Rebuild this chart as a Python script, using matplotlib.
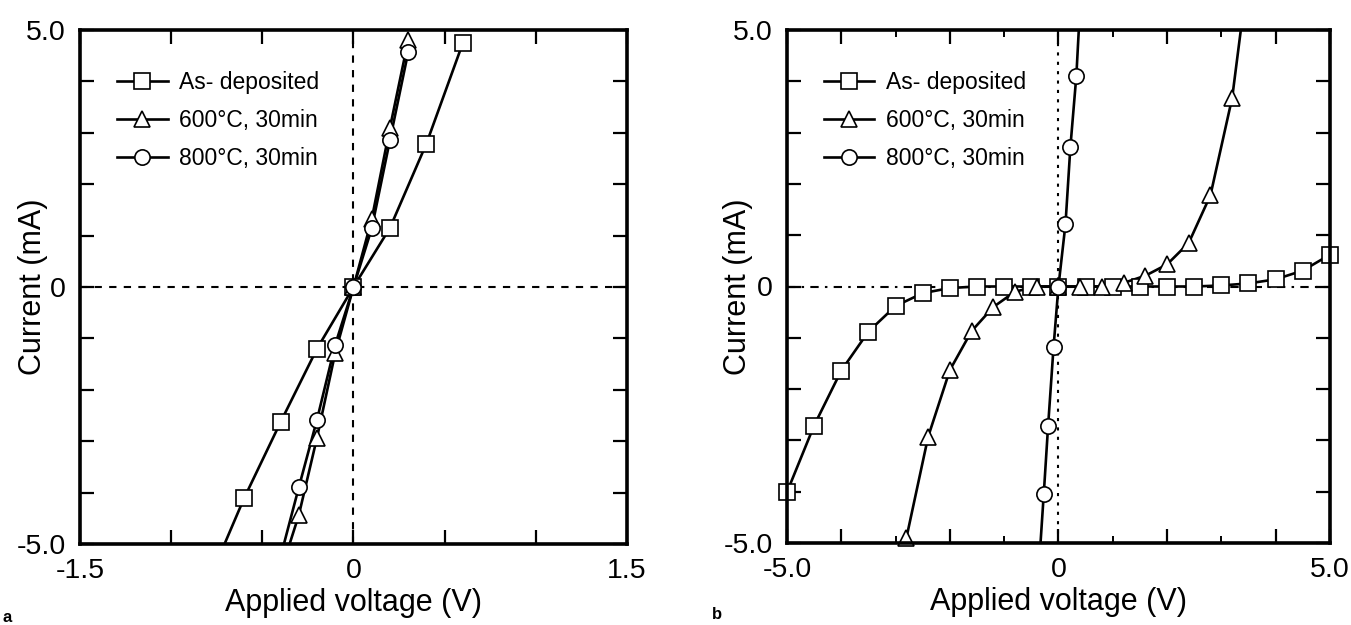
import matplotlib
matplotlib.use("Agg")
import matplotlib.pyplot as plt
from matplotlib.ticker import MultipleLocator

plt.rcParams["font.family"] = ["Liberation Sans", "DejaVu Sans"]

# ---- panel a : I-V, small range ----
a_dep_v = [0.6, 0.4, 0.2, 0.0, -0.2, -0.4, -0.6, -0.8]
a_dep_i = [4.75, 2.79, 1.15, 0.0, -1.20, -2.63, -4.11, -5.77]
a_600_v = [0.3, 0.2, 0.1, 0.0, -0.1, -0.2, -0.3, -0.4]
a_600_i = [4.80, 3.10, 1.32, 0.0, -1.28, -2.93, -4.44, -5.55]
a_800_v = [0.3, 0.2, 0.1, 0.0, -0.1, -0.2, -0.3, -0.4]
a_800_i = [4.57, 2.86, 1.14, 0.0, -1.12, -2.58, -3.90, -5.25]

# ---- panel b : I-V, wide range ----
b_dep_v = [-5.0, -4.5, -4.0, -3.5, -3.0, -2.5, -2.0, -1.5, -1.0, -0.5, 0.0,
           0.5, 1.0, 1.5, 2.0, 2.5, 3.0, 3.5, 4.0, 4.5, 5.0]
b_dep_i = [-4.01, -2.71, -1.64, -0.88, -0.38, -0.13, -0.03, 0.0, 0.0, 0.0, 0.0,
           0.0, 0.0, 0.0, 0.0, 0.0, 0.02, 0.06, 0.14, 0.31, 0.62]
b_600_v = [-3.0, -2.8, -2.4, -2.0, -1.6, -1.2, -0.8, -0.4, 0.0, 0.4, 0.8,
           1.2, 1.6, 2.0, 2.4, 2.8, 3.2, 3.6]
b_600_i = [-6.3, -4.9, -2.93, -1.63, -0.87, -0.40, -0.10, 0.0, 0.0, 0.0, 0.0,
           0.07, 0.21, 0.43, 0.85, 1.78, 3.68, 7.0]
b_800_v = [-0.38, -0.27, -0.19, -0.09, 0.0, 0.13, 0.22, 0.33, 0.45]
b_800_i = [-5.8, -4.04, -2.71, -1.18, 0.0, 1.22, 2.72, 4.11, 6.5]

labels = ["As- deposited", "600°C, 30min", "800°C, 30min"]
markers = ["s", "^", "o"]

fig = plt.figure(figsize=(13.51, 6.25), dpi=100)
ax_a = fig.add_axes([0.0592, 0.1296, 0.4049, 0.8224])
ax_b = fig.add_axes([0.5825, 0.1312, 0.4019, 0.8208])


def draw_panel(ax, series, xlim, xmajor, xminor, xlabels, zero_styles, ylab_x):
    ax.axvline(0, color="black", lw=1.5, ls=zero_styles[0], zorder=1)
    ax.axhline(0, color="black", lw=1.5, ls=zero_styles[1], zorder=1)
    for (v, i), m, lab in zip(series, markers, labels):
        # line is clipped to the frame, markers inside the range may overlap it
        ax.plot(v, i, color="black", lw=1.9, zorder=3)
        vin = [x for x, y in zip(v, i) if xlim[0] <= x <= xlim[1] and -5 <= y <= 5]
        iin = [y for x, y in zip(v, i) if xlim[0] <= x <= xlim[1] and -5 <= y <= 5]
        ax.plot(vin, iin, ls="none", marker=m, ms=11, mfc="white", mec="black",
                mew=1.2, zorder=4, clip_on=False)
        ax.plot([], [], color="black", lw=1.9, marker=m, ms=11, mfc="white",
                mec="black", mew=1.2, label=lab)
    ax.set_xlim(*xlim)
    ax.set_ylim(-5, 5)
    ax.xaxis.set_major_locator(MultipleLocator(xmajor))
    if xminor:
        ax.xaxis.set_minor_locator(MultipleLocator(xminor))
    ax.yaxis.set_major_locator(MultipleLocator(1))
    xt = ax.get_xticks()
    ax.set_xticklabels([xlabels.get(round(t, 2), "") for t in xt])
    yt = ax.get_yticks()
    ylab = {5.0: "5.0", 0.0: "0", -5.0: "-5.0"}
    ax.set_yticklabels([ylab.get(round(t, 2), "") for t in yt])
    ax.tick_params(which="major", direction="in", length=10, width=1.6,
                   top=True, right=True, labelsize=20.5, pad=10)
    ax.tick_params(which="minor", direction="in", length=5, width=1.4,
                   top=True, right=True)
    for s in ax.spines.values():
        s.set_linewidth(2.6)
        s.set_zorder(5)
    ax.set_xlabel("Applied voltage (V)", fontsize=22, labelpad=3)
    ax.set_ylabel("Current (mA)", fontsize=22)
    ax.yaxis.set_label_coords(ylab_x, 0.5)
    ax.legend(loc="upper left", bbox_to_anchor=(0.068, 0.92), frameon=False,
              fontsize=16.5, handlelength=2.2, handletextpad=0.5,
              labelspacing=0.66, borderpad=0, borderaxespad=0, numpoints=1)


draw_panel(ax_a, [(a_dep_v, a_dep_i), (a_600_v, a_600_i), (a_800_v, a_800_i)],
           (-1.5, 1.5), 0.5, None, {-1.5: "-1.5", 0.0: "0", 1.5: "1.5"},
           [(0, (3.5, 3.5)), (0, (3.5, 3.5))], -0.058)
draw_panel(ax_b, [(b_dep_v, b_dep_i), (b_600_v, b_600_i), (b_800_v, b_800_i)],
           (-5, 5), 2, 1, {-5.0: "-5.0", 0.0: "0", 5.0: "5.0"},
           [(0, (1.5, 3)), (0, (4, 3, 1.2, 3))], -0.063)

# panel b has major ticks only every 2 V, so add labelled ends by hand
ax_b.set_xticks([-5, -4, -2, 0, 2, 4, 5])
ax_b.set_xticklabels(["-5.0", "", "", "0", "", "", "5.0"])

fig.text(0.002, 0.005, "a", fontsize=12, fontweight="bold")
fig.text(0.527, 0.01, "b", fontsize=12, fontweight="bold")

fig.savefig("out.png", dpi=100)
